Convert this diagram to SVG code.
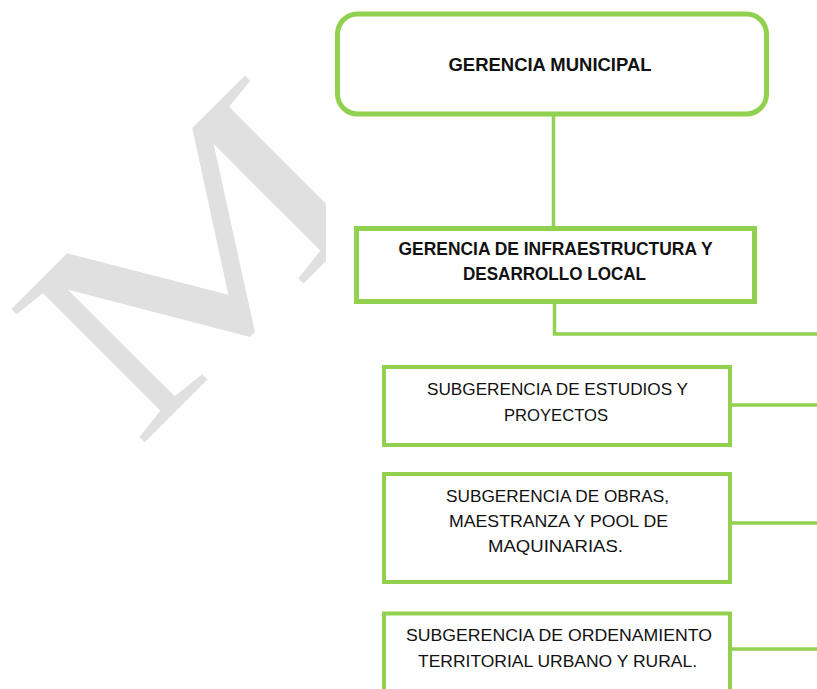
<svg xmlns="http://www.w3.org/2000/svg" width="817" height="689" viewBox="0 0 817 689">
<style>
.box{fill:#fff;stroke:#92D050}
.conn{fill:none;stroke:#92D050;stroke-width:3.5}
.b{font-family:"Liberation Sans",Arial,sans-serif;font-weight:bold;font-size:17.5px;fill:#111;text-anchor:middle}
.r{font-family:"Liberation Sans",Arial,sans-serif;font-size:17px;fill:#111;text-anchor:middle}
</style>
<defs>
<clipPath id="wmclip"><rect x="0" y="0" width="326" height="689"/></clipPath>
</defs>
<rect width="817" height="689" fill="#fff"/>
<g id="watermark" clip-path="url(#wmclip)">
<text transform="translate(136.6,450.4) rotate(-45) scale(1.38,1)" x="0" y="0" font-family="'Liberation Serif','Times New Roman',serif" font-size="288" fill="#E0E0E0">M</text>
</g>
<g id="connectors">
<line class="conn" x1="553.5" y1="114" x2="553.5" y2="228"/>
<polyline class="conn" points="554.5,302 554.5,334 817,334"/>
<line class="conn" x1="731" y1="405" x2="817" y2="405"/>
<line class="conn" x1="731" y1="523" x2="817" y2="523"/>
<line class="conn" x1="731" y1="649" x2="817" y2="649"/>
</g>
<g id="n1">
<rect class="box" x="337.5" y="14" width="429" height="100" rx="20" ry="20" stroke-width="5"/>
<text class="b" x="550" y="70.5" textLength="203" lengthAdjust="spacingAndGlyphs">GERENCIA MUNICIPAL</text>
</g>
<g id="n2">
<rect class="box" x="356.5" y="228.5" width="398" height="73" stroke-width="5"/>
<text class="b" x="555.5" y="255" textLength="314" lengthAdjust="spacingAndGlyphs">GERENCIA DE INFRAESTRUCTURA Y</text>
<text class="b" x="554.5" y="280" textLength="183" lengthAdjust="spacingAndGlyphs">DESARROLLO LOCAL</text>
</g>
<g id="n3">
<rect class="box" x="384" y="367" width="346" height="78" stroke-width="4"/>
<text class="r" x="557.5" y="395" textLength="261" lengthAdjust="spacingAndGlyphs">SUBGERENCIA DE ESTUDIOS Y</text>
<text class="r" x="556" y="420.5" textLength="104" lengthAdjust="spacingAndGlyphs">PROYECTOS</text>
</g>
<g id="n4">
<rect class="box" x="384" y="474" width="346" height="108" stroke-width="4"/>
<text class="r" x="557.5" y="501.5" textLength="223" lengthAdjust="spacingAndGlyphs">SUBGERENCIA DE OBRAS,</text>
<text class="r" x="558.5" y="526.5" textLength="219" lengthAdjust="spacingAndGlyphs">MAESTRANZA Y POOL DE</text>
<text class="r" x="555.5" y="552" textLength="135" lengthAdjust="spacingAndGlyphs">MAQUINARIAS.</text>
</g>
<g id="n5">
<rect class="box" x="384" y="613.5" width="346" height="100" stroke-width="4"/>
<text class="r" x="559" y="641" textLength="306" lengthAdjust="spacingAndGlyphs">SUBGERENCIA DE ORDENAMIENTO</text>
<text class="r" x="557.5" y="666.5" textLength="279" lengthAdjust="spacingAndGlyphs">TERRITORIAL URBANO Y RURAL.</text>
</g>
</svg>
